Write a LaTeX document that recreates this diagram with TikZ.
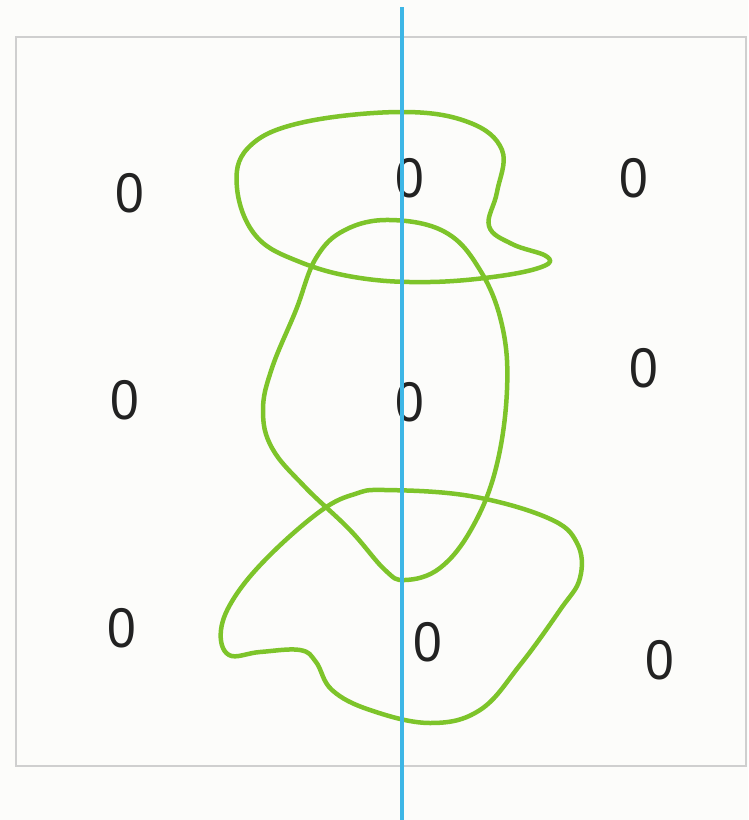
\documentclass[tikz,border=0pt]{standalone}
\usepackage{fontspec}
\setmainfont{Liberation Sans}
\usepackage{xcolor}
\usetikzlibrary{positioning}
\definecolor{paper}{HTML}{FCFCFA}
\definecolor{frameline}{HTML}{CFCFCF}
\definecolor{axis}{HTML}{3DB6E6}
\definecolor{blob}{HTML}{7DC42A}
\definecolor{ink}{HTML}{222222}

\begin{document}
\begin{tikzpicture}[
  x=1pt, y=-1pt,
  digit/.style={font=\fontsize{56}{56}\selectfont, text=ink, inner sep=0pt, xscale=0.92},
  region/.style={draw=blob, line width=4.5pt, line join=round},
  divider/.style={draw=axis, line width=4pt}
]
  % canvas and frame
  \fill[paper] (0,0) rectangle (748,820);
  \useasboundingbox (0,0) rectangle (748,820);
  \draw[frameline, line width=1.5pt] (16,37) rectangle (746,766);

  % digits
  \node[digit] (d11) at (130,193) {0};
  \node[digit] (d12) at (410,178) {0};
  \node[digit] (d13) at (634,178) {0};
  \node[digit] (d21) at (125,400) {0};
  \node[digit] (d22) at (410,402) {0};
  \node[digit] (d23) at (644,368) {0};
  \node[digit] (d31) at (122,628) {0};
  \node[digit] (d32) at (428,642) {0};
  \node[digit] (d33) at (660,660) {0};

  % regions
  \draw[region] plot[smooth cycle, tension=0.65] coordinates {
    (237,188) (248,148) (300,123) (400,112) (468,122) (502,150)
    (497,192) (489,226) (512,244) (546,256) (544,266) (500,276)
    (430,282) (360,278) (300,262) (256,236)};
  \draw[region] plot[smooth cycle, tension=0.65] coordinates {
    (390,220) (445,232) (480,270) (502,325) (507,390) (496,468)
    (472,528) (440,568) (405,580) (385,570) (350,530) (305,487)
    (272,448) (263,410) (272,368) (296,310) (316,258) (345,230)};
  \draw[region] plot[smooth cycle, tension=0.65] coordinates {
    (385,490) (470,496) (548,518) (577,543) (580,578) (560,610)
    (520,665) (480,710) (430,723) (370,710) (332,690) (316,662)
    (300,650) (260,652) (229,655) (221,630) (236,595) (272,553)
    (322,510) (355,494)};

  % divider
  \coordinate (top) at (402,7);
  \coordinate (bottom) at (402,820);
  \draw[divider] (top) -- (bottom);
\end{tikzpicture}
\end{document}
